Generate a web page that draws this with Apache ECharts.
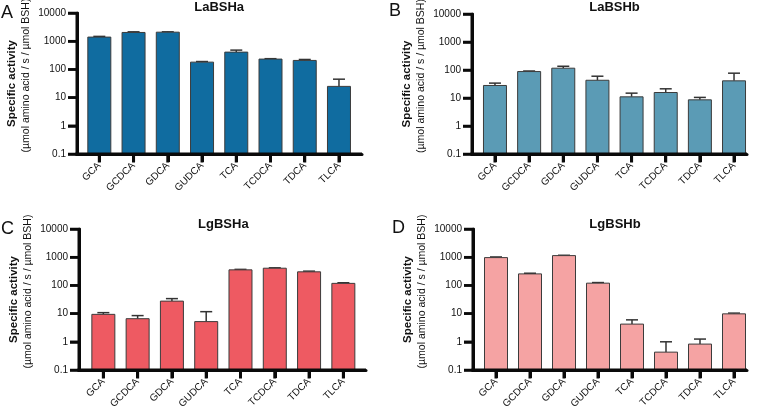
<!DOCTYPE html>
<html>
<head>
<meta charset="utf-8">
<script src="https://cdn.jsdelivr.net/npm/echarts@6/dist/echarts.min.js"></script>
<style>
  html, body { margin: 0; padding: 0; background: #fff; }
  #chart { width: 757px; height: 412px; }
</style>
</head>
<body>
<div id="chart"></div>
<script>
// bile salt substrates
const categories = ['GCA', 'GCDCA', 'GDCA', 'GUDCA', 'TCA', 'TCDCA', 'TDCA', 'TLCA']
const yTickLabels = ['0.1', '1', '10', '100', '1000', '10000']
const yTitle = 'Specific activity'
const yUnit = '(µmol amino acid / s / µmol BSH)'

// mean and mean + error
const laBSHaMean = [1400, 2040, 2090, 181, 410, 232, 208, 25]
const laBSHaUpper = [1480, 2150, 2150, 190, 483, 240, 225, 45]
const laBSHbMean = [28, 88, 116, 43, 11, 15.7, 8.6, 41]
const laBSHbUpper = [34, 92, 136, 60, 14.9, 21.3, 10.5, 77]
const lgBSHaMean = [9.4, 6.6, 27.7, 5.2, 356, 407, 303, 118]
const lgBSHaUpper = [10.8, 8.5, 34, 11.7, 370, 420, 320, 124]
const lgBSHbMean = [968, 256, 1140, 120, 4.24, 0.43, 0.83, 9.8]
const lgBSHbUpper = [1020, 270, 1170, 126, 6.0, 1.0, 1.25, 10.4]

const FONT = 'Liberation Sans, Arial, Helvetica, sans-serif'
const INK = '#0a0a0a'
const Y_MIN = 0.1
const Y_MAX = 10000
const yTickValues = yTickLabels.map(Number)

// layout of each panel (pixels)
const panels = [
  { title: 'LaBSHa', letter: 'A', color: '#106ca0', mean: laBSHaMean, upper: laBSHaUpper,
    axisL: 77, axisR: 362, barL: 82.2, barR: 356.1, top: 13, bottom: 154, letterX: 1, letterY: 4, titleY: 1 },
  { title: 'LaBSHb', letter: 'B', color: '#5b9bb5', mean: laBSHbMean, upper: laBSHbUpper,
    axisL: 472, axisR: 747, barL: 477.9, barR: 751.1, top: 14, bottom: 154, letterX: 389, letterY: 2, titleY: 1 },
  { title: 'LgBSHa', letter: 'C', color: '#ee5a62', mean: lgBSHaMean, upper: lgBSHaUpper,
    axisL: 79, axisR: 366, barL: 86.2, barR: 360.5, top: 229, bottom: 370, letterX: 1, letterY: 220, titleY: 218 },
  { title: 'LgBSHb', letter: 'D', color: '#f5a3a3', mean: lgBSHbMean, upper: lgBSHbUpper,
    axisL: 473, axisR: 747, barL: 479, barR: 751, top: 229, bottom: 370, letterX: 392, letterY: 219, titleY: 218 }
]

const chart = echarts.init(document.getElementById('chart'))

const grid = []
const xAxis = []
const yAxis = []
const series = []
const title = []

panels.forEach((p, i) => {
  const frame = i * 2
  const bars = i * 2 + 1

  // frame grid: y axis + long x axis line
  grid.push({ left: p.axisL, top: p.top, width: p.axisR - p.axisL, height: p.bottom - p.top })
  // bar grid: categories
  grid.push({ left: p.barL, top: p.top, width: p.barR - p.barL, height: p.bottom - p.top })

  xAxis.push({
    type: 'value', gridIndex: frame, min: 0, max: 1, interval: 1,
    axisLine: { show: true, onZero: false, lineStyle: { color: INK, width: 3 } },
    axisTick: { show: false }, axisLabel: { show: false }, splitLine: { show: false }
  })
  xAxis.push({
    type: 'category', gridIndex: bars, data: categories,
    axisLine: { show: false },
    axisTick: { show: true, alignWithLabel: true, length: 8, lineStyle: { color: INK, width: 3 } },
    axisLabel: { rotate: 45, margin: 10, fontSize: 10, color: '#111', fontFamily: FONT }
  })

  yAxis.push({
    type: 'log', gridIndex: frame, min: Y_MIN, max: Y_MAX,
    axisLine: { show: true, onZero: false, lineStyle: { color: INK, width: 3 } },
    axisTick: { show: true, length: 9, lineStyle: { color: INK, width: 2.5 } },
    axisLabel: {
      margin: 11, fontSize: 10, color: '#111', fontFamily: FONT,
      formatter: v => yTickLabels[Math.round(Math.log10(v)) + 1]
    },
    splitLine: { show: false }
  })
  yAxis.push({ type: 'log', gridIndex: bars, min: Y_MIN, max: Y_MAX, show: false, splitLine: { show: false } })

  // error bars (upper only)
  series.push({
    type: 'custom', xAxisIndex: bars, yAxisIndex: bars, z: 2, clip: false,
    data: categories.map((c, k) => [k, p.mean[k], p.upper[k]]),
    renderItem: (params, api) => {
      const base = api.coord([api.value(0), api.value(1)])
      const top = api.coord([api.value(0), api.value(2)])
      const style = { stroke: '#333', lineWidth: 1.5 }
      return {
        type: 'group',
        children: [
          { type: 'line', shape: { x1: base[0], y1: base[1], x2: top[0], y2: top[1] }, style },
          { type: 'line', shape: { x1: top[0] - 6, y1: top[1], x2: top[0] + 6, y2: top[1] }, style }
        ]
      }
    }
  })
  // bars drawn from the axis floor (0.1) up to the mean
  series.push({
    type: 'custom', xAxisIndex: bars, yAxisIndex: bars, z: 3, clip: false,
    data: categories.map((c, k) => [k, p.mean[k]]),
    renderItem: (params, api) => {
      const floor = api.coord([api.value(0), Y_MIN])
      const top = api.coord([api.value(0), api.value(1)])
      const w = 23
      return {
        type: 'rect',
        shape: { x: floor[0] - w / 2, y: top[1], width: w, height: floor[1] - top[1] },
        style: { fill: p.color, stroke: '#3c3c3c', lineWidth: 1 }
      }
    }
  })

  title.push({
    text: p.title, left: (p.barL + p.barR) / 2, top: p.titleY, textAlign: 'center', padding: 0,
    textStyle: { fontSize: 13, fontWeight: 'bold', color: '#111', fontFamily: FONT }
  })
  title.push({
    text: p.letter, left: p.letterX, top: p.letterY, padding: 0,
    textStyle: { fontSize: 18, fontWeight: 'normal', color: '#111', fontFamily: FONT }
  })
})

chart.setOption({
  animation: false,
  title,
  grid,
  xAxis,
  yAxis,
  series
})

// axis frame, ticks and rotated y titles as graphic elements,
// placed through the chart's own scales
const graphic = []
const seg = (x1, y1, x2, y2, w) => ({
  type: 'line', z: 50,
  shape: { x1, y1, x2, y2 },
  style: { stroke: INK, lineWidth: w }
})
panels.forEach((p, i) => {
  const frame = i * 2
  const bars = i * 2 + 1
  const corner = chart.convertToPixel({ gridIndex: frame }, [0, Y_MIN])
  const topPt = chart.convertToPixel({ gridIndex: frame }, [0, Y_MAX])
  const right = chart.convertToPixel({ gridIndex: frame }, [1, Y_MIN])
  graphic.push(seg(corner[0], corner[1] + 1.5, topPt[0], topPt[1] - 1, 3))
  graphic.push(seg(corner[0] - 1.5, corner[1], right[0], right[1], 3))
  yTickValues.forEach(v => {
    const c = chart.convertToPixel({ gridIndex: frame }, [0, v])
    graphic.push(seg(c[0] - 9, c[1], c[0], c[1], 2.5))
  })
  categories.forEach((name, k) => {
    const c = chart.convertToPixel({ gridIndex: bars }, [k, Y_MIN])
    graphic.push(seg(c[0], c[1], c[0], c[1] + 8.5, 3))
  })

  const mid = (p.top + p.bottom) / 2
  graphic.push({
    type: 'text', x: p.axisL - 65, y: mid, rotation: Math.PI / 2,
    style: { text: yTitle, fontSize: 11.5, fontWeight: 'bold', fontFamily: FONT, fill: '#111', align: 'center', verticalAlign: 'middle' }
  })
  graphic.push({
    type: 'text', x: p.axisL - 51, y: mid - 8, rotation: Math.PI / 2,
    style: { text: yUnit, fontSize: 10.5, fontFamily: FONT, fill: '#111', align: 'center', verticalAlign: 'middle' }
  })
})
chart.setOption({ graphic })
</script>
</body>
</html>
